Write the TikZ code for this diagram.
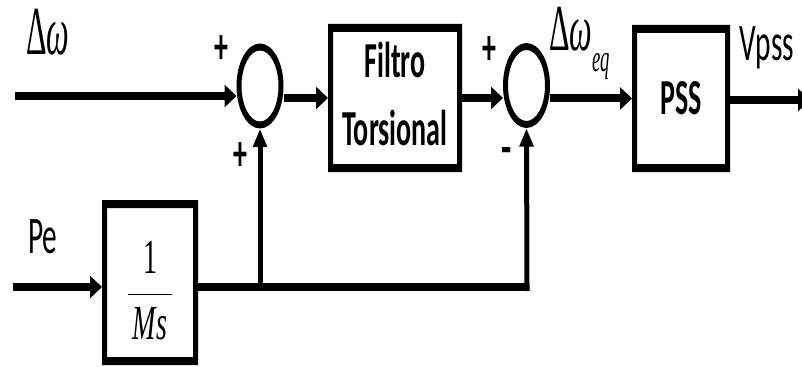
\documentclass[tikz,border=0pt]{standalone}
\usepackage{fontspec}
\usepackage{graphicx}
\setmainfont{Carlito}
\newfontfamily\tnr{Liberation Serif}
\usetikzlibrary{arrows.meta,calc,shapes.geometric}
\tikzset{
  hline/.style={line width=6pt},
  vline/.style={line width=3.75pt},
  harrow/.style={hline,-{Triangle[length=9pt,width=16.5pt]}},
  varrow/.style={vline,-{Triangle[length=14pt,width=10pt]}},
  sumnode/.style={ellipse,minimum width=47*0.75pt,minimum height=85*0.75pt,inner sep=0pt,outer sep=0pt},
  blockbox/.style={rectangle,inner sep=0pt,outer sep=0pt,align=center,font=\bfseries\fontsize{21}{28}\selectfont},
  sgn/.style={inner sep=0pt,font=\bfseries\fontsize{21}{21}\selectfont},
  lbl/.style={inner sep=0pt,font=\fontsize{22}{22}\selectfont},
}
\newcommand{\ring}[1]{\fill[black,even odd rule] (#1) ellipse [x radius=23.5,y radius=42.5] (#1) ellipse [x radius=18.5,y radius=35.5];}
\newcommand{\frm}[1]{\fill[black,even odd rule] (#1.north west) rectangle (#1.south east) ($(#1.north west)+(5,8)$) rectangle ($(#1.south east)+(-5,-8)$);}
\begin{document}
\begin{tikzpicture}[x=0.75pt,y=-0.75pt]
\useasboundingbox (0,0) rectangle (802,367);
% sum junctions
\node[sumnode] (c1) at (260,86) {};
\node[sumnode] (c2) at (526.5,85.5) {};
\ring{c1}
\ring{c2}
% blocks
\node[blockbox,minimum width=134*0.75pt,minimum height=148*0.75pt] (filt) at (395,98) {\scalebox{1}[1.8]{\begin{tabular}{@{}c@{}}Filtro\\Torsional\end{tabular}}};
\node[blockbox,minimum width=98*0.75pt,minimum height=147*0.75pt] (pss) at (681,98.5) {\scalebox{1}[1.8]{PSS}};
\node[blockbox,minimum width=96*0.75pt,minimum height=165*0.75pt] (ms) at (150,282.5) {};
\frm{filt}
\frm{pss}
\frm{ms}
\node[inner sep=0pt,font=\fontsize{21}{21}\selectfont\tnr] (mstext) at (150,291) {\scalebox{1}[1.75]{$\displaystyle\frac{\mbox{1}}{\,\mbox{\itshape Ms}\,}$}};
% coordinates
\coordinate (in1) at (15,96);
\coordinate (pein) at (13,287);
\coordinate (out) at (810,100);
\coordinate (j1) at (260,287);
\coordinate (j2) at (527,287);
% connectors
\draw[harrow] (in1) -- (c1.west |- in1);
\draw[harrow] (c1.east |- filt.west) -- (filt.west);
\draw[harrow] (filt.east) -- (c2.west |- filt.east);
\draw[harrow] (c2.east |- pss.west) -- (pss.west);
\draw[harrow] (pss.east |- out) -- (out);
\draw[harrow] (pein) -- (ms.west |- pein);
\draw[hline] (ms.east |- pein) -- (j2);
\draw[varrow,shorten <=-4*0.75pt] (j1) -- (c1.south);
\draw[varrow,shorten <=-4*0.75pt] (j2) -- (c2.south);
% labels
\node[inner sep=0pt,anchor=base west] (dw) at (26,55) {\scalebox{1}[2.15]{\fontsize{24}{24}\selectfont\tnr Δ\textit{ω}}};
\node[inner sep=0pt,anchor=base west] (dweq) at (549,51) {\scalebox{1}[2.05]{\fontsize{24}{24}\selectfont\tnr Δ\textit{ω}\raisebox{-7.5pt}{\fontsize{14}{14}\selectfont\textit{eq}}}};
\node[lbl] (pe) at (43,237) {\scalebox{1}[1.8]{Pe}};
\node[lbl] (vpss) at (767,48) {\scalebox{1}[1.8]{Vpss}};
\node[sgn] (p1) at (221,50) {\scalebox{1}[1.8]{+}};
\node[sgn] (p2) at (240,157) {\scalebox{1}[1.8]{+}};
\node[sgn] (p3) at (489,51) {\scalebox{1}[1.8]{+}};
\node[sgn] (m1) at (507,156) {\scalebox{1.2}[1.8]{-}};
\end{tikzpicture}
\end{document}
